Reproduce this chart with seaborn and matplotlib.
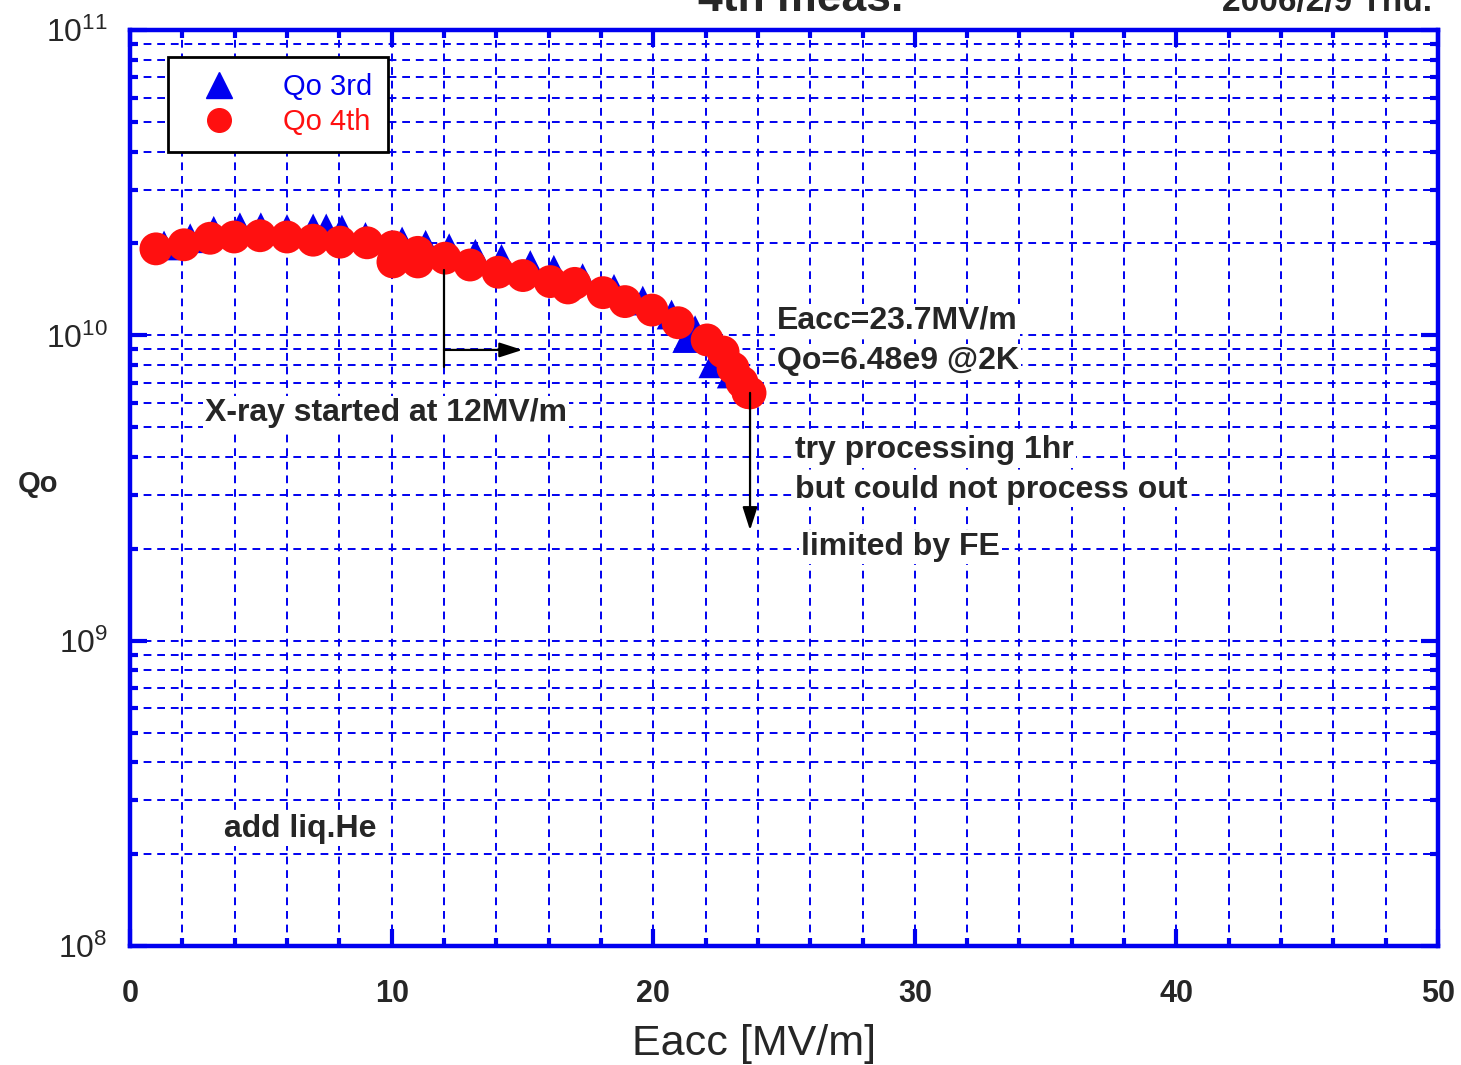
import matplotlib
import matplotlib.pyplot as plt
import numpy as np
import pandas as pd
import seaborn as sns
from matplotlib.lines import Line2D
from matplotlib.ticker import MultipleLocator, LogLocator, NullFormatter

matplotlib.use("Agg")

# ── Data ──────────────────────────────────────────────────────────────────────

eacc_3rd = [1.3, 2.3, 3.2, 4.2, 5.0, 6.0, 7.0, 7.5, 8.1, 9.0, 10.4, 11.3, 12.2,
            13.2, 14.2, 15.3, 16.2, 17.3, 18.5, 19.6, 20.7, 21.3, 21.6, 22.3, 23.0]
qo_3rd = [1.97e10, 2.08e10, 2.2e10, 2.26e10, 2.26e10, 2.23e10, 2.24e10, 2.24e10,
          2.22e10, 2.1e10, 2.03e10, 1.98e10, 1.93e10, 1.85e10, 1.78e10, 1.7e10,
          1.64e10, 1.54e10, 1.42e10, 1.3e10, 1.17e10, 9.8e9, 1.04e10, 8.1e9, 7.5e9]

eacc_4th = [0.99, 2.06, 3.06, 3.98, 4.97, 6.0, 7.0, 8.03, 9.06, 10.05, 10.05,
            11.0, 11.0, 12.04, 13.0, 14.07, 15.02, 16.06, 16.74, 17.0, 18.08,
            18.92, 19.95, 20.95, 22.06, 22.67, 23.05, 23.39, 23.62, 23.7]
qo_4th = [1.92e10, 1.98e10, 2.08e10, 2.10e10, 2.12e10, 2.10e10, 2.05e10, 2.02e10,
          2.01e10, 1.95e10, 1.74e10, 1.87e10, 1.74e10, 1.79e10, 1.70e10, 1.61e10,
          1.57e10, 1.50e10, 1.43e10, 1.48e10, 1.38e10, 1.29e10, 1.21e10, 1.10e10,
          9.66e9, 8.82e9, 7.81e9, 7.03e9, 6.5e9, 6.48e9]

x_ticks = [0, 10, 20, 30, 40, 50]
y_ticks = [1e8, 1e9, 1e10, 1e11]
y_tick_labels = [r"$\mathregular{10^{8}}$", r"$\mathregular{10^{9}}$",
                 r"$\mathregular{10^{10}}$", r"$\mathregular{10^{11}}$"]

BLUE = "#0000f0"
RED = "#ff1010"

sns.set_style("ticks")
plt.rcParams["font.family"] = ["Liberation Sans", "DejaVu Sans"]
plt.rcParams["mathtext.fontset"] = "custom"
plt.rcParams["mathtext.rm"] = "Liberation Sans"

df3 = pd.DataFrame({"Eacc": eacc_3rd, "Qo": qo_3rd})
df4 = pd.DataFrame({"Eacc": eacc_4th, "Qo": qo_4th})

fig = plt.figure(figsize=(14.61, 10.65), dpi=100)
ax = fig.add_axes([0.089, 0.1117, 0.8953, 0.8601])

ax.set_yscale("log")
ax.set_xlim(0, 50)
ax.set_ylim(1e8, 1e11)

# grid
ax.xaxis.set_major_locator(MultipleLocator(10))
ax.xaxis.set_minor_locator(MultipleLocator(2))
ax.yaxis.set_major_locator(LogLocator(base=10))
ax.yaxis.set_minor_locator(LogLocator(base=10, subs=np.arange(2, 10)))
ax.yaxis.set_minor_formatter(NullFormatter())
ax.grid(which="both", color=BLUE, linestyle=(0, (4, 3)), linewidth=1.4, zorder=0)
ax.set_axisbelow(True)

sns.scatterplot(data=df3, x="Eacc", y="Qo", marker="^", s=460, color=BLUE,
                edgecolor="none", ax=ax, zorder=3, legend=False)
sns.scatterplot(data=df4, x="Eacc", y="Qo", marker="o", s=560, color=RED,
                edgecolor="none", ax=ax, zorder=4, legend=False)

# axes styling
for sp in ax.spines.values():
    sp.set_color(BLUE)
    sp.set_linewidth(3.2)
ax.tick_params(which="major", direction="in", length=12, width=3, color=BLUE,
               top=True, right=True)
ax.tick_params(which="minor", direction="in", length=6, width=3, color=BLUE,
               top=True, right=True)
ax.set_xticks(x_ticks)
ax.set_xticklabels([str(t) for t in x_ticks], fontsize=22, fontweight="bold")
ax.tick_params(axis="x", which="major", pad=24)
ax.set_yticks(y_ticks)
ax.set_yticklabels(y_tick_labels, fontsize=23)
ax.tick_params(axis="y", which="major", pad=16)

ax.set_xlabel("Eacc [MV/m]", fontsize=31)
ax.xaxis.set_label_coords(0.477, -0.085)
ax.set_ylabel("Qo", fontsize=21, fontweight="bold", rotation=0, va="center")
ax.yaxis.set_label_coords(-0.070, 0.504)

# annotations
box = dict(facecolor="white", edgecolor="none", pad=1.5)
txt = dict(fontsize=23, fontweight="bold", va="center", ha="left", bbox=box, zorder=5)
ax.text(24.73, 1.115e10, "Eacc=23.7MV/m", **txt)
ax.text(24.73, 8.25e9, "Qo=6.48e9 @2K", **txt)
ax.text(2.87, 5.56e9, "X-ray started at 12MV/m", **txt)
ax.text(25.42, 4.2e9, "try processing 1hr", **txt)
ax.text(25.42, 3.11e9, "but could not process out", **txt)
ax.text(25.65, 2.03e9, "limited by FE", **txt)
ax.text(3.59, 2.42e8, "add liq.He", **txt)

arrow = dict(arrowstyle="-|>,head_length=1.4,head_width=0.45",
             color="black", lw=1.6, shrinkA=0, shrinkB=0)
ax.plot([12.0, 12.0], [1.64e10, 7.9e9], color="black", lw=1.6, zorder=6)
ax.annotate("", xy=(15.0, 8.96e9), xytext=(12.0, 8.96e9), zorder=6, arrowprops=arrow)
ax.annotate("", xy=(23.7, 2.3e9), xytext=(23.7, 6.48e9), zorder=6, arrowprops=arrow)

# legend
handles = [
    Line2D([], [], marker="^", color=BLUE, linestyle="none", markersize=19),
    Line2D([], [], marker="o", color=RED, linestyle="none", markersize=17),
]
leg = ax.legend(handles, ["Qo 3rd", "Qo 4th"], loc="upper left",
                bbox_to_anchor=(0.029, 0.9705), fontsize=21, frameon=True,
                fancybox=False, framealpha=1, borderpad=0.55, handletextpad=1.0,
                labelspacing=0.25, handlelength=2.4, borderaxespad=0)
leg.get_frame().set_edgecolor("black")
leg.get_frame().set_linewidth(2)
leg.set_zorder(7)
for t, c in zip(leg.get_texts(), [BLUE, RED]):
    t.set_color(c)

# title (cropped at the top edge, as in the original)
fig.text(0.548, 1 - 11 / 1065, "4th meas.", fontsize=32, fontweight="bold",
         ha="center", va="baseline")
fig.text(0.980, 1 - 11 / 1065, "2006/2/9 Thu.", fontsize=24, fontweight="bold",
         ha="right", va="baseline")

fig.savefig("out.png", dpi=100)
plt.close(fig)
